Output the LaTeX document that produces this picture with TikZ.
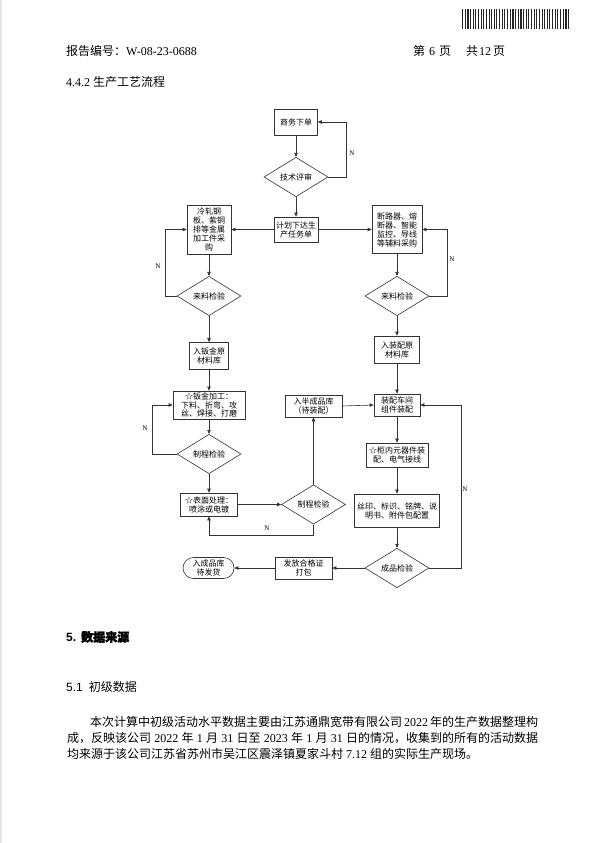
\documentclass[tikz,border=0pt]{standalone}
\usepackage{fontspec}
\setmainfont{Liberation Serif}
\setsansfont{Liberation Sans}
\newfontfamily\cjk{Noto Sans CJK SC}
\newfontfamily\cjkb[FakeBold=2.5]{Noto Sans CJK SC}
\usetikzlibrary{shapes.geometric,arrows.meta}
\begin{document}
\begin{tikzpicture}[x=1pt,y=-1pt,
  line/.style={draw=black!80, line width=0.6pt},
  box/.style={line, fill=white, align=center, inner sep=0.5pt, font=\cjk\fontsize{8}{9}\selectfont},
  dia/.style={line, diamond, fill=white, align=center, inner sep=0pt, minimum width=64pt, minimum height=38pt, font=\cjk\fontsize{8}{9}\selectfont},
  term/.style={box, rounded corners=10.5pt},
  arr/.style={line, -{Triangle[length=4pt,width=3.4pt]}},
  nlab/.style={inner sep=0pt, font=\fontsize{7}{8}\selectfont},
  txt/.style={anchor=base west, inner sep=0pt, font=\fontsize{12}{14}\selectfont}]
\useasboundingbox (0,0) rectangle (596,843);
\fill[white] (0,0) rectangle (596,843);
\fill[black!10] (0,0) rectangle (1.5,843);

% barcode
\foreach \i in {0,...,40}{
  \pgfmathsetmacro\w{0.5+0.4*mod(\i*7+\i*\i,4)}
  \fill[black!85] (462+\i*2.65,9) rectangle ++(\w,20);
}

% header texts
\node[txt] (hd) at (66,55.5) {{\cjk 报告编号：}W-08-23-0688};
\node[txt] (pg) at (413,55.5) {{\cjk 第}\hspace{4pt}6\hspace{4pt}{\cjk 页}\hspace{15pt}{\cjk 共}\hspace{1pt}12\hspace{2pt}{\cjk 页}};
\node[txt] (sec) at (66,86.5) {4.4.2 {\cjk 生产工艺流程}};

% flowchart nodes
\node[box, minimum width=43pt, minimum height=26pt] (sw) at (296,122) {商务下单};
\node[dia, minimum height=37pt] (js) at (296,177) {技术评审};
\node[box, minimum width=44pt, minimum height=25pt] (jh) at (296,229.5) {计划下达生\\产任务单};
\node[box, minimum width=44pt, minimum height=49pt] (lb) at (209,229.5) {冷轧钢\\板、紫铜\\排等金属\\加工件采\\购};
\node[box, minimum width=50pt, minimum height=48pt] (rb) at (397,229.5) {断路器、熔\\断器、智能\\监控、导线\\等辅料采购};
\node[dia] (ld) at (209,296) {来料检验};
\node[dia] (rd) at (397,296) {来料检验};
\node[box, minimum width=39pt, minimum height=27pt] (bj) at (209,356) {入钣金原\\材料库};
\node[box, minimum width=45pt, minimum height=27pt] (zp) at (397,349.5) {入装配原\\材料库};
\node[box, minimum width=72pt, minimum height=28pt, font=\cjk\fontsize{8}{8.6}\selectfont] (bjjg) at (209,405) {☆钣金加工：\\下料、折弯、攻\\丝、焊接、打磨};
\node[box, minimum width=57pt, minimum height=22pt] (bcp) at (313.5,406) {入半成品库\\（待装配）};
\node[box, minimum width=46pt, minimum height=22pt] (zpcj) at (397,405) {装配车间\\组件装配};
\node[box, minimum width=62pt, minimum height=24pt] (gn) at (397,455) {☆柜内元器件装\\配、电气接线};
\node[dia] (zc1) at (209,454) {制程检验};
\node[box, minimum width=57pt, minimum height=23pt] (bm) at (209,504.5) {☆表面处理：\\喷涂或电镀};
\node[dia, minimum height=37pt] (zc2) at (313.5,504.5) {制程检验};
\node[box, minimum width=85pt, minimum height=33pt] (sy) at (397,510.5) {丝印、标识、铭牌、说\\明书、附件包配置};
\node[dia] (cp) at (397,568) {成品检验};
\node[box, minimum width=57pt, minimum height=22pt] (ff) at (303.5,568) {发放合格证\\打包};
\node[term, minimum width=51pt, minimum height=21pt] (rk) at (208.5,568) {入成品库\\待发货};

% N labels
\node[nlab] (n1) at (352,153) {N};
\node[nlab] (n2) at (158,266) {N};
\node[nlab] (n3) at (452,259) {N};
\node[nlab] (n4) at (145,428) {N};
\node[nlab] (n5) at (267,528) {N};
\node[nlab] (n6) at (465,489) {N};

% connectors
\draw[arr] (sw.south) -- (js.north);
\draw[arr] (js.east) -- ++(18,0) |- (sw.east);
\draw[arr] (js.south) -- (jh.north);
\draw[arr] (jh.west) -- (lb.east);
\draw[arr] (jh.east) -- (rb.west);
\draw[arr] (lb.south) -- (ld.north);
\draw[arr] (rb.south) -- (rd.north);
\draw[arr] (ld.west) -- ++(-11,0) |- (lb.west);
\draw[arr] (rd.east) -- ++(18,0) |- (rb.east);
\draw[arr] (ld.south) -- (bj.north);
\draw[arr] (rd.south) -- (zp.north);
\draw[arr] (bj.south) -- (bjjg.north);
\draw[arr] (zp.south) -- (zpcj.north);
\draw[arr] (bjjg.south) -- (zc1.north);
\draw[arr] (zc1.west) -- ++(-24,0) |- (bjjg.west);
\draw[arr] (zc1.south) -- (bm.north);
\draw[arr] (bm.east) -- (zc2.west);
\draw[arr] (zc2.south) -- ++(0,11) -| (bm.south);
\draw[arr] (zc2.north) -- (bcp.south);
\draw[arr] (bcp.east) -- (zpcj.west);
\draw[arr] (zpcj.south) -- (gn.north);
\draw[arr] (gn.south) -- (sy.north);
\draw[arr] (sy.south) -- (cp.north);
\draw[arr] (cp.east) -- ++(32,0) |- (zpcj.east);
\draw[arr] (cp.west) -- (ff.east);
\draw[arr] (ff.west) -- (rk.east);

% section 5
\node[txt] (h5) at (66,641.5) {\sffamily\bfseries 5.\hspace{5pt}{\cjkb 数据来源}};
\node[txt] (h51) at (66,691.5) {\sffamily 5.1\hspace{6pt}{\cjk 初级数据}};
\node[txt] (p1) at (90,726.5) {\makebox[448pt][s]{{\cjk 本次计算中初级活动水平数据主要由江苏通鼎宽带有限公司} 2022 {\cjk 年的生产数据整理构}}};
\node[txt] (p2) at (67,742.5) {\makebox[471pt][s]{{\cjk 成，反映该公司} 2022 {\cjk 年} 1 {\cjk 月} 31 {\cjk 日至} 2023 {\cjk 年} 1 {\cjk 月} 31 {\cjk 日的情况，收集到的所有的活动数据}}};
\node[txt] (p3) at (67,758) {{\cjk 均来源于该公司江苏省苏州市吴江区震泽镇夏家斗村} 7.12 {\cjk 组的实际生产现场。}};
\end{tikzpicture}
\end{document}
